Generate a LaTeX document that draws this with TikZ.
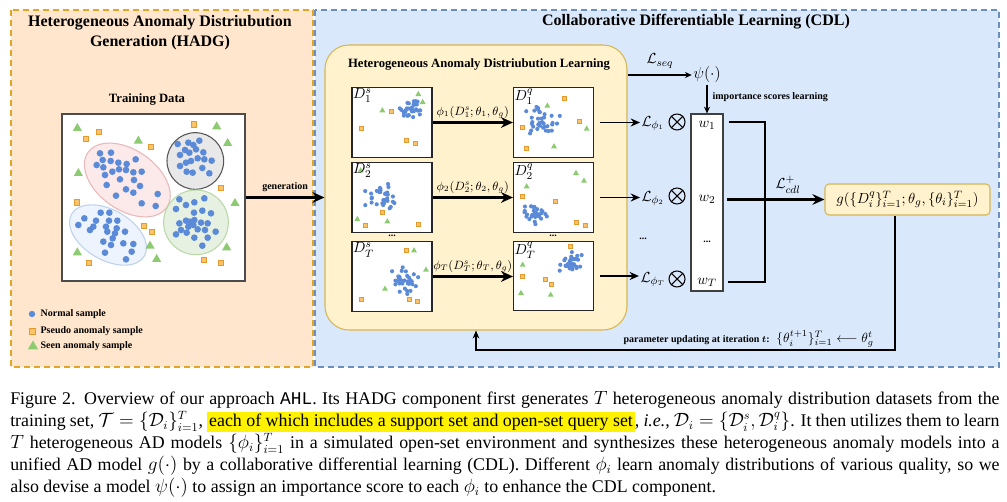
\documentclass[tikz,border=0pt]{standalone}
\usepackage{amsmath,amssymb}
\usepackage{fontspec}
\setmainfont{Liberation Serif}
\setmonofont{Liberation Mono}
\usetikzlibrary{arrows.meta,calc}
\definecolor{hadgfill}{HTML}{FFE6CC}
\definecolor{hadgdraw}{HTML}{E3A524}
\definecolor{cdlfill}{HTML}{DAE8FC}
\definecolor{cdldraw}{HTML}{6C8EBF}
\definecolor{ybfill}{HTML}{FFF2CC}
\definecolor{ybdraw}{HTML}{D6B656}
\definecolor{dotc}{HTML}{5B8AD8}
\definecolor{sqfill}{HTML}{FBC36B}
\definecolor{sqdraw}{HTML}{E59A2C}
\definecolor{trc}{HTML}{8DCB72}
\definecolor{pinkfill}{HTML}{FCE9E9}
\definecolor{pinkdraw}{HTML}{E9B9B9}
\definecolor{grayfill}{HTML}{E8E8E8}
\definecolor{graydraw}{HTML}{555555}
\definecolor{bluefill}{HTML}{EEF4FD}
\definecolor{bluedraw}{HTML}{BFD2EC}
\definecolor{greenfill}{HTML}{E7F1E1}
\definecolor{greendraw}{HTML}{B9D8A9}
\newcommand\mysq[3]{\filldraw[fill=sqfill,draw=sqdraw,line width=0.5pt] (#1,#2) ++(-#3,-#3) rectangle ++(2*#3,2*#3);}
\newcommand\mytri[3]{\fill[trc] ($(#1,#2)+(90:#3)$) -- ($(#1,#2)+(210:#3)$) -- ($(#1,#2)+(330:#3)$) -- cycle;}
\newcommand\mycluster[6]{%
  \pgfmathsetseed{#6}%
  \foreach \k in {1,...,#5}{%
    \pgfmathsetmacro\rx{#1+#3*(rand+rand+rand)/2.4}%
    \pgfmathsetmacro\ry{#2+#4*(rand+rand+rand)/2.4}%
    \fill[dotc] (\rx,\ry) circle[radius=1.55pt];%
  }}
\tikzset{
  lbl/.style={font=\fontsize{9.5}{11}\selectfont\bfseries, inner sep=1pt},
  ttl/.style={font=\fontsize{12}{15}\selectfont\bfseries, inner sep=1pt, align=center},
  small/.style={font=\fontsize{7.5}{9}\selectfont\bfseries, inner sep=1pt},
  mathn/.style={font=\fontsize{11}{13}\selectfont, inner sep=1pt},
  phin/.style={font=\fontsize{9}{10}\selectfont, inner sep=1pt},
  dbox/.style={draw=black!85, line width=0.8pt, fill=white, minimum width=60pt, minimum height=52pt, inner sep=0},
  dlab/.style={anchor=north west, inner sep=1pt, font=\fontsize{11}{12}\selectfont},
  thickarrow/.style={line width=2.2pt, -{Stealth[length=9pt,width=8pt]}},
  medarrow/.style={line width=1.4pt, -{Stealth[length=7pt,width=6pt]}},
  thinarrow/.style={line width=0.8pt, -{Stealth[length=5pt,width=4.5pt]}},
  thickline/.style={line width=2.2pt},
  otimesn/.style={circle, draw, line width=0.8pt, minimum size=12pt, inner sep=0},
}
\begin{document}
\begin{tikzpicture}[x=0.75pt,y=-0.75pt]
\useasboundingbox (0,0) rectangle (1007,502);
\fill[white] (0,0) rectangle (1007,502);
% panels
\filldraw[fill=cdlfill,draw=cdldraw,line width=1.1pt,dash pattern=on 4.5pt off 3pt] (315,10) rectangle (999,367);
\filldraw[fill=hadgfill,draw=hadgdraw,line width=1.5pt,dash pattern=on 4.5pt off 3pt] (11,10) rectangle (313,367);
% titles
\node[ttl] (t1) at (160,33) {Heterogeneous Anomaly Distriubution\\Generation (HADG)};
\node[ttl] (t2) at (696,22) {Collaborative Differentiable Learning (CDL)};
% training data
\node[lbl] (tdl) at (147,100) {Training Data};
\node[draw=black!70,line width=1pt,fill=white,minimum width=137.25pt,minimum height=125.25pt,inner sep=0] (train) at (153.5,197.5) {};
\begin{scope}[shift={(50,90)},x=0.25pt,y=-0.25pt]
\filldraw[fill=pinkfill,draw=pinkdraw,line width=0.8pt,rotate around={-35:(232,270)}] (232,270) ellipse[x radius=36pt,y radius=22.5pt];
\filldraw[fill=bluefill,draw=bluedraw,line width=0.8pt,rotate around={-30:(174,435)}] (174,435) ellipse[x radius=31.5pt,y radius=18.75pt];
\filldraw[fill=grayfill,draw=graydraw,line width=0.8pt] (436,213) circle[radius=21.25pt];
\filldraw[fill=greenfill,draw=greendraw,line width=0.8pt] (438,397) circle[radius=24.25pt];
\foreach \x/\y in {150/190,183/188,158/210,182/213,205/218,230/222,257/208,140/225,160/232,187/245,207/238,228/240,250/247,275/245,165/255,210/268,252/270,170/285,228/298,270/288,198/317,250/308,275/340,323/312,317/348,
383/162,415/158,448/152,405/180,430/165,438/178,390/195,418/188,460/187,408/218,423/213,443/205,463/208,485/212,390/228,410/245,428/248,457/234,478/250,
388/328,408/345,433/337,463/325,378/357,432/368,457/362,483/370,388/400,408/392,433/390,453/398,473/400,415/410,430/405,393/420,410/428,443/418,465/420,497/425,378/433,433/443,473/443,457/467,420/395,
152/368,178/368,103/385,138/392,177/392,202/392,85/405,130/410,168/410,120/420,200/415,172/425,195/430,225/425,188/445,160/455,183/465,220/460,250/462,165/488,245/485,228/508}
  {\fill[dotc] (\x,\y) circle[radius=2.5pt];}
\foreach \x/\y in {82/115,265/153,500/110,533/160,85/250,555/340,300/468,82/488,320/508,530/473}
  {\mytri{\x}{\y}{4pt}}
\foreach \x/\y in {147/125,108/147,303/170,432/103,512/293,80/337,282/408,305/425,117/518,462/510,513/518}
  {\mysq{\x}{\y}{2.1pt}}
\end{scope}
% legend
\fill[dotc] (32,314) circle[radius=2.4pt];
\node[small,anchor=west] (lg1) at (39,314) {Normal sample};
\mysq{32}{331}{2.2pt}
\node[small,anchor=west] (lg2) at (39,331) {Pseudo anomaly sample};
\mytri{33}{346.5}{4.5pt}
\node[small,anchor=west] (lg3) at (39,346) {Seen anomaly sample};
% HADL box
\node[draw=ybdraw,fill=ybfill,rounded corners=18pt,minimum width=226.5pt,minimum height=213.75pt,line width=0.8pt,inner sep=0] (hadl) at (476,187.5) {};
\node[lbl] (hadlt) at (479,65) {Heterogeneous Anomaly Distriubution Learning};
% generation arrow
\draw[thickarrow] (train.east) -- (train.east -| hadl.west) node[small,midway,above=2pt] (gen) {generation};
% dataset boxes
\node[dbox] (s1) at (392,122.5) {};
\node[dbox] (q1) at (553.5,122.5) {};
\node[dbox] (s2) at (392,197.5) {};
\node[dbox] (q2) at (553.5,197.5) {};
\node[dbox] (sT) at (392,276.5) {};
\node[dbox] (qT) at (553.5,276) {};
\begin{scope}[shift={(330,70)},x=0.25pt,y=-0.25pt]
\mycluster{238}{118}{40}{35}{32}{3}
\mycluster{635}{148}{55}{50}{34}{7}
\mycluster{145}{380}{58}{48}{32}{11}
\mycluster{615}{428}{45}{42}{30}{19}
\foreach \x/\y in {265/73,278/97,157/122,652/108,770/177,672/230,92/302,82/448,172/455,590/350,738/310,762/333}
  {\mytri{\x}{\y}{2.6pt}}
\foreach \x/\y in {185/125,95/175,230/212,255/220,703/85,748/155,578/172,590/236,157/427,107/466,265/462,578/378,675/395,738/457,765/467}
  {\mysq{\x}{\y}{1.6pt}}
\end{scope}
\begin{scope}[shift={(330,230)},x=0.25pt,y=-0.25pt]
\mycluster{230}{148}{42}{44}{32}{23}
\mycluster{722}{100}{34}{34}{30}{29}
\foreach \x/\y in {252/62,288/120,165/177,578/105,573/190,662/195}
  {\mytri{\x}{\y}{2.6pt}}
\foreach \x/\y in {228/60,95/207,238/207,262/213,720/50,578/140,645/148,663/162}
  {\mysq{\x}{\y}{1.6pt}}
\end{scope}
\node[dlab] (ls1) at (s1.north west) {$D_1^s$};
\node[dlab] (lq1) at (q1.north west) {$D_1^q$};
\node[dlab] (ls2) at (s2.north west) {$D_2^s$};
\node[dlab] (lq2) at (q2.north west) {$D_2^q$};
\node[dlab] (lsT) at (sT.north west) {$D_T^s$};
\node[dlab] (lqT) at (qT.north west) {$D_T^q$};
\node[small] (ds) at (392,236) {...};
\node[small] (dq) at (553,236) {...};
% s -> q arrows
\draw[thickarrow] (s1.east) -- (q1.west) node[phin,midway,above=1pt] (p1) {$\phi_1(D_1^s;\theta_1,\theta_g)$};
\draw[thickarrow] (s2.east) -- (q2.west) node[phin,midway,above=1pt] (p2) {$\phi_2(D_2^s;\theta_2,\theta_g)$};
\draw[thickarrow] (sT.east) -- (sT.east -| qT.west) node[phin,midway,above=1pt] (pT) {$\phi_T(D_T^s;\theta_T,\theta_g)$};
% losses
\node[mathn] (L1) at (653,123.5) {$\mathcal{L}_{\phi_1}$};
\node[mathn] (L2) at (653,198.5) {$\mathcal{L}_{\phi_2}$};
\node[small] (Ld) at (643,239) {...};
\node[mathn] (LT) at (653,279.5) {$\mathcal{L}_{\phi_T}$};
\draw[medarrow] ($(q1.east)+(6,0)$) -- (q1.east -| L1.west);
\draw[medarrow] ($(q2.east)+(6,0)$) -- (q2.east -| L2.west);
\draw[medarrow] ($(qT.east)+(6,0)$) -- (qT.east -| LT.west);
\node[otimesn] (o1) at (677,122) {};
\node[otimesn] (o2) at (677,196) {};
\node[otimesn] (oT) at (677,279) {};
\foreach \o in {o1,o2,oT}
  {\draw[line width=0.8pt] (\o.north west) -- (\o.south east) (\o.north east) -- (\o.south west);}
% w box
\node[draw=black!75,line width=0.9pt,fill=white,minimum width=24pt,minimum height=132.75pt,inner sep=0] (wbox) at (707,202.5) {};
\node[mathn] (w1) at (707,125) {$w_1$};
\node[mathn] (w2) at (707,199) {$w_2$};
\node[small] (wd) at (707,242) {...};
\node[mathn] (wT) at (707,282) {$w_T$};
% psi
\node[mathn,font=\fontsize{12}{14}\selectfont] (psi) at (707,75) {$\psi(\cdot)$};
\node[mathn] (Lseq) at (660,61) {$\mathcal{L}_{seq}$};
\draw[thinarrow] (hadl.north east |- psi) -- (psi.west);
\draw[thinarrow] (psi.south) -- (psi.south |- wbox.north);
\node[small,anchor=west] (isl) at (711,97) {importance scores learning};
% g box
\node[draw=ybdraw,fill=ybfill,rounded corners=3pt,line width=0.8pt,minimum width=123.75pt,minimum height=23.25pt,inner sep=0,font=\fontsize{11}{13}\selectfont] (g) at (907.5,199.5) {$g(\{D_i^q\}_{i=1}^T;\theta_g,\{\theta_i\}_{i=1}^T)$};
% thick connectors
\coordinate (r1) at (765,122);
\coordinate (rT) at (765,282);
\draw[thickline] ($(wbox.east |- r1)+(5,0)$) -- (r1) -- (rT) -- ($(wbox.east |- rT)+(4,0)$);
\draw[thickarrow] ($(wbox.east |- g.west)+(3,0)$) -- (g.west);
\node[mathn] (Lcdl) at (788,185) {$\mathcal{L}_{cdl}^{+}$};
% feedback
\coordinate (f1) at (895,350);
\coordinate (f2) at (476,350);
\draw[line width=0.8pt,-{Stealth[length=6pt,width=5pt]}] (g.south -| f1) -- (f1) -- (f2) -- (hadl.south);
\node[anchor=west,inner sep=1pt] (upd) at (622,339) {{\fontsize{7.5}{9}\selectfont\bfseries parameter updating at iteration $\boldsymbol{t}$:}\ \ {\fontsize{10}{12}\selectfont$\{\theta_i^{t+1}\}_{i=1}^T\longleftarrow\theta_g^t$}};
% caption
\node[anchor=north west,inner sep=0,text width=742pt,align=justify,font=\fontsize{13.4}{16.5}\selectfont] (cap) at (10,391) {Figure 2. Overview of our approach \texttt{AHL}. Its HADG component first generates $T$ heterogeneous anomaly distribution datasets from the\linebreak training set, $\mathcal{T}=\{\mathcal{D}_i\}_{i=1}^T$, {\setlength{\fboxsep}{1.5pt}\colorbox{yellow}{each of which includes a support set and open-set query set}}, \textit{i.e.}, $\mathcal{D}_i=\{\mathcal{D}_i^s,\mathcal{D}_i^q\}$. It then utilizes them to learn\linebreak $T$ heterogeneous AD models $\{\phi_i\}_{i=1}^T$ in a simulated open-set environment and synthesizes these heterogeneous anomaly models into a\linebreak unified AD model $g(\cdot)$ by a collaborative differential learning (CDL). Different $\phi_i$ learn anomaly distributions of various quality, so we\linebreak also devise a model $\psi(\cdot)$ to assign an importance score to each $\phi_i$ to enhance the CDL component.};
\end{tikzpicture}
\end{document}
